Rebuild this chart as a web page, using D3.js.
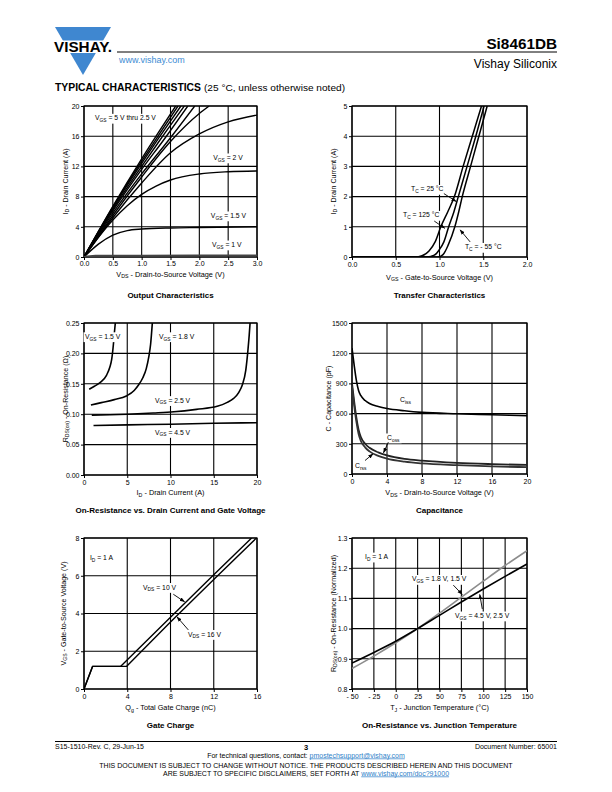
<!DOCTYPE html>
<html><head><meta charset="utf-8">
<script src="https://cdn.jsdelivr.net/npm/d3@7"></script>
<style>
body{margin:0;background:#fff}
svg{font-family:"Liberation Sans",Arial,Helvetica,sans-serif}
</style></head><body>
<svg id="page" width="612" height="792"></svg>
<script>
// ---------------- DATA ----------------
// Output characteristics (VDS [V], ID [A])
const outTicksX = [0, 0.5, 1.0, 1.5, 2.0, 2.5, 3.0];
const outTicksY = [0, 4, 8, 12, 16, 20];
const out_b1 = [[0,0],[0.5,6.7],[1.0,13.0],[1.3,16.6],[1.59,20]];
const out_b2 = [[0,0],[0.5,6.6],[1.0,12.7],[1.3,16.2],[1.63,20]];
const out_b3 = [[0,0],[0.5,6.5],[1.0,12.4],[1.3,15.8],[1.68,20]];
const out_b4 = [[0,0],[0.5,6.3],[1.0,12.0],[1.3,15.3],[1.74,20]];
const out_b5 = [[0,0],[0.5,6.1],[1.0,11.6],[1.4,15.7],[1.80,20]];
const out_b6 = [[0,0],[0.5,5.8],[1.0,11.0],[1.5,15.8],[1.92,20]];
const out_b7 = [[0,0],[0.5,5.5],[1.0,10.6],[1.5,15.3],[2.0,19.0],[2.17,20]];
const out_b8 = [[0,0],[0.5,5.2],[1.0,9.8],[1.5,13.8],[2.0,16.3],[2.5,17.9],[3.0,18.8]];
const out_vgs2 = [[0,0],[0.25,2.6],[0.5,4.9],[0.75,6.8],[1.0,8.3],[1.25,9.4],[1.5,10.2],[2.0,11.0],[2.5,11.3],[3.0,11.4]];
const out_vgs15 = [[0,0],[0.25,1.7],[0.5,2.9],[0.75,3.5],[1.0,3.7],[1.5,3.85],[2.0,3.9],[3.0,4.0]];
const out_vgs1 = [[0,0],[0.1,0.1],[0.2,0.15],[1.0,0.17],[3.0,0.2]];

// Transfer characteristics (VGS [V], ID [A])
const trTicksX = [0, 0.5, 1.0, 1.5, 2.0];
const trTicksY = [0, 1, 2, 3, 4, 5];
const tr_125 = [[0,0],[0.72,0],[0.80,0.04],[0.88,0.2],[0.95,0.5],[1.015,1.0],[1.095,1.5],[1.17,2.0],[1.27,3.0],[1.375,4.0],[1.48,5.0]];
const tr_25  = [[0,0],[0.86,0],[0.94,0.06],[1.00,0.25],[1.05,0.5],[1.105,1.0],[1.165,1.5],[1.215,2.0],[1.315,3.0],[1.415,4.0],[1.51,5.0]];
const tr_m55 = [[0,0],[0.98,0],[1.04,0.08],[1.10,0.4],[1.175,1.0],[1.22,1.5],[1.26,2.0],[1.355,3.0],[1.45,4.0],[1.545,5.0]];

// On-resistance vs drain current (ID [A], RDS(on) [ohm])
const rdsTicksX = [0, 5, 10, 15, 20];
const rdsTicksY = [0, 0.05, 0.10, 0.15, 0.20, 0.25];
const rds_15 = [[0.6,0.141],[1.2,0.146],[1.85,0.152],[2.6,0.164],[3.0,0.178],[3.2,0.19],[3.4,0.215],[3.5,0.232],[3.62,0.25]];
const rds_18 = [[0.8,0.115],[2,0.119],[3.5,0.124],[4.9,0.130],[5.8,0.139],[6.3,0.148],[6.8,0.16],[7.2,0.175],[7.5,0.195],[7.7,0.215],[7.9,0.25]];
const rds_25 = [[0.9,0.0985],[3,0.099],[5,0.100],[8,0.102],[10.4,0.104],[13,0.108],[15.4,0.113],[16.5,0.119],[17.3,0.126],[17.9,0.136],[18.3,0.148],[18.7,0.172],[18.95,0.205],[19.1,0.23],[19.2,0.25]];
const rds_45 = [[1.1,0.0815],[5,0.0825],[10,0.0835],[15,0.085],[20,0.086]];

// Capacitance (VDS [V], C [pF])
const capTicksX = [0, 4, 8, 12, 16, 20];
const capTicksY = [0, 300, 600, 900, 1200, 1500];
const cap_ciss = [[0,1250],[0.25,1080],[0.5,930],[0.75,830],[1,780],[1.5,730],[2,700],[3,670],[4,650],[6,628],[8,612],[12,598],[16,588],[20,578]];
const cap_coss = [[0,900],[0.25,720],[0.5,560],[0.75,440],[1,370],[1.5,300],[2,260],[3,215],[4,185],[6,150],[8,132],[12,110],[16,98],[20,90]];
const cap_crss = [[0,870],[0.25,680],[0.5,520],[0.75,400],[1,330],[1.5,265],[2,225],[3,180],[4,152],[6,122],[8,105],[12,88],[16,76],[20,68]];

// Gate charge (Qg [nC], VGS [V])
const qgTicksX = [0, 4, 8, 12, 16];
const qgTicksY = [0, 2, 4, 6, 8];
const qg_10 = [[0,0],[0.8,1.2],[3.4,1.2],[8,3.8],[12,6.05],[15.5,8]];
const qg_16 = [[0,0],[0.8,1.2],[3.95,1.2],[8,3.55],[12,5.8],[15.95,8]];

// On-resistance vs junction temperature (TJ [°C], normalized)
const tjTicksX = [-50, -25, 0, 25, 50, 75, 100, 125, 150];
const tjTicksY = [0.8, 0.9, 1.0, 1.1, 1.2, 1.3];
const tj_temps = [-50, -25, 0, 25, 50, 75, 100, 125, 150];
const tj_45_25 = [0.886, 0.921, 0.958, 1.0, 1.044, 1.088, 1.131, 1.173, 1.214];
const tj_18_15 = [0.868, 0.909, 0.953, 1.0, 1.051, 1.104, 1.157, 1.209, 1.258];

// ---------------- DRAWING ----------------
const FONT = '"Liberation Sans",Arial,Helvetica,sans-serif';
const svg = d3.select("#page");
const defs = svg.append("defs");
defs.append("marker").attr("id","arr").attr("viewBox","0 0 10 10").attr("refX",9).attr("refY",5)
  .attr("markerWidth",6).attr("markerHeight",6).attr("orient","auto-start-reverse")
  .append("path").attr("d","M0,1.5 L10,5 L0,8.5 z").attr("fill","#000");

function rich(g, x, y, str, o = {}) {
  const t = g.append("text").attr("x", x).attr("y", y)
    .attr("font-size", o.size || 7).attr("text-anchor", o.anchor || "start")
    .attr("font-weight", o.weight || "normal").attr("fill", o.fill || "#000");
  if (o.rotate) t.attr("transform", `rotate(${o.rotate},${x},${y})`);
  const parts = str.split(/(_\{[^}]*\})/);
  let sub = false;
  parts.forEach(p => {
    if (!p) return;
    if (p.startsWith("_{")) {
      t.append("tspan").attr("font-size", (o.size || 7) * 0.72).attr("dy", 1.8).text(p.slice(2, -1));
      sub = true;
    } else {
      const ts = t.append("tspan").text(p);
      if (sub) { ts.attr("dy", -1.8); sub = false; }
    }
  });
  return t;
}

let clipN = 0;
function makeChart(c) {
  const x = d3.scaleLinear().domain(c.xd).range([c.L, c.R]);
  const y = d3.scaleLinear().domain(c.yd).range([c.B, c.T]);
  const g = svg.append("g");
  const id = "clip" + (clipN++);
  defs.append("clipPath").attr("id", id).append("rect")
    .attr("x", c.L).attr("y", c.T).attr("width", c.R - c.L).attr("height", c.B - c.T);
  g.append("g").selectAll("line").data(c.xt).join("line")
    .attr("x1", d => x(d)).attr("x2", d => x(d)).attr("y1", c.T).attr("y2", c.B)
    .attr("stroke", "#000").attr("stroke-width", 1.1);
  g.append("g").selectAll("line").data(c.yt).join("line")
    .attr("y1", d => y(d)).attr("y2", d => y(d)).attr("x1", c.L).attr("x2", c.R)
    .attr("stroke", "#000").attr("stroke-width", 1.1);
  g.append("rect").attr("x", c.L).attr("y", c.T).attr("width", c.R - c.L).attr("height", c.B - c.T)
    .attr("fill", "none").attr("stroke", "#000").attr("stroke-width", 1.2);
  const ax = g.append("g").attr("transform", `translate(0,${c.B})`)
    .call(d3.axisBottom(x).tickValues(c.xt).tickFormat(c.xf).tickSize(3).tickPadding(c.tp == null ? 2 : c.tp));
  ax.select(".domain").remove();
  ax.attr("font-size", 7).attr("font-family", FONT);
  const ay = g.append("g").attr("transform", `translate(${c.L},0)`)
    .call(d3.axisLeft(y).tickValues(c.yt).tickFormat(c.yf).tickSize(3).tickPadding(1.5));
  ay.select(".domain").remove();
  ay.attr("font-size", 7).attr("font-family", FONT);
  const cx = (c.L + c.R) / 2, cy = (c.T + c.B) / 2;
  rich(g, cx, c.xlY, c.xl, { anchor: "middle", size: 7.3 });
  rich(g, c.ylX, cy, c.yl, { anchor: "middle", rotate: -90, size: 7.1 });
  g.append("text").attr("x", cx).attr("y", c.titleY).attr("text-anchor", "middle")
    .attr("font-size", 8).attr("font-weight", "bold").text(c.title);
  const plot = g.append("g").attr("clip-path", `url(#${id})`);
  const ann = g.append("g");
  return { x, y, g, plot, ann };
}

function curve(ch, data, o = {}) {
  const line = d3.line().x(d => ch.x(d[0])).y(d => ch.y(d[1]))
    .curve(o.linear ? d3.curveLinear : d3.curveMonotoneX);
  ch.plot.append("path").datum(data).attr("d", line).attr("fill", "none")
    .attr("stroke", o.color || "#000").attr("stroke-width", o.width || 1.5)
    .attr("stroke-linejoin", "round");
}
function arrow(ch, a, b) {
  ch.ann.append("line").attr("x1", ch.x(a[0])).attr("y1", ch.y(a[1]))
    .attr("x2", ch.x(b[0])).attr("y2", ch.y(b[1]))
    .attr("stroke", "#000").attr("stroke-width", 0.9).attr("marker-end", "url(#arr)");
}
function label(ch, p, s) {
  const grp = ch.ann.append("g");
  const t = rich(grp, ch.x(p[0]), ch.y(p[1]), s, { size: 6.8 });
  const bb = t.node().getBBox();
  grp.insert("rect", "text").attr("x", bb.x - 1.5).attr("y", bb.y - 0.5)
    .attr("width", bb.width + 3).attr("height", bb.height + 1).attr("fill", "#fff");
}

const f1 = d3.format(".1f"), f0 = d3.format("d"), f2 = d3.format(".2f");

// Header
svg.append("polygon").attr("points", "55,27 111,27 83,75").attr("fill", "#3f87d0");
svg.append("rect").attr("x", 52).attr("y", 40.5).attr("width", 62).attr("height", 12.5).attr("fill", "#fff");
svg.append("text").attr("x", 54).attr("y", 52.3).attr("font-size", 14.5).attr("font-weight", "bold")
  .attr("textLength", 58).attr("lengthAdjust", "spacingAndGlyphs").text("VISHAY.");
svg.append("line").attr("x1", 117).attr("x2", 557).attr("y1", 52).attr("y2", 52).attr("stroke", "#000").attr("stroke-width", 1);
svg.append("text").attr("x", 557).attr("y", 48.5).attr("text-anchor", "end").attr("font-size", 15.3)
  .attr("font-weight", "bold").text("Si8461DB");
svg.append("text").attr("x", 119).attr("y", 63).attr("font-size", 9).attr("fill", "#3d8bd3").text("www.vishay.com");
svg.append("text").attr("x", 557).attr("y", 67.5).attr("text-anchor", "end").attr("font-size", 12).text("Vishay Siliconix");
svg.append("text").attr("x", 55).attr("y", 91).attr("font-size", 10).attr("font-weight", "bold")
  .attr("textLength", 146).attr("lengthAdjust", "spacingAndGlyphs").text("TYPICAL CHARACTERISTICS");
svg.append("text").attr("x", 204).attr("y", 91).attr("font-size", 9.8)
  .attr("textLength", 141).attr("lengthAdjust", "spacingAndGlyphs").text("(25 °C, unless otherwise noted)");

// Chart 1: Output characteristics
const c1 = makeChart({ L: 84, R: 257, T: 106, B: 257, xd: [0, 3], yd: [0, 20], xt: outTicksX, yt: outTicksY,
  xf: f1, yf: f0, tp: 1.5, xl: "V_{DS} - Drain-to-Source Voltage (V)", xlY: 276.5, yl: "I_{D} - Drain Current (A)", ylX: 67.5,
  title: "Output Characteristics", titleY: 297.5 });
[out_b1, out_b2, out_b3, out_b4, out_b5, out_b6, out_b7, out_b8, out_vgs2, out_vgs15].forEach(d => curve(c1, d, { width: 1.4 }));
curve(c1, out_vgs1, { width: 2, color: "#444" });
label(c1, [0.19, 18.1], "V_{GS} = 5 V thru 2.5 V");
label(c1, [2.24, 12.85], "V_{GS} = 2 V");
label(c1, [2.2, 5.17], "V_{GS} = 1.5 V");
label(c1, [2.22, 1.32], "V_{GS} = 1 V");

// Chart 2: Transfer characteristics
const c2 = makeChart({ L: 352, R: 527, T: 106, B: 257, xd: [0, 2], yd: [0, 5], xt: trTicksX, yt: trTicksY,
  xf: f1, yf: f0, xl: "V_{GS} - Gate-to-Source Voltage (V)", xlY: 279.5, yl: "I_{D} - Drain Current (A)", ylX: 335.5,
  title: "Transfer Characteristics", titleY: 297.5 });
[tr_125, tr_25, tr_m55].forEach(d => curve(c2, d, { width: 1.5 }));
label(c2, [0.674, 2.17], "T_{C} = 25 °C");
label(c2, [0.583, 1.31], "T_{C} = 125 °C");
label(c2, [1.29, 0.25], "T_{C} = - 55 °C");
arrow(c2, [1.05, 2.1], [1.19, 1.84]);
arrow(c2, [0.94, 1.19], [1.06, 0.95]);
arrow(c2, [1.35, 0.5], [1.235, 0.9]);

// Chart 3: On-resistance vs drain current
const c3 = makeChart({ L: 84, R: 257, T: 323, B: 475, xd: [0, 20], yd: [0, 0.25], xt: rdsTicksX, yt: rdsTicksY,
  xf: f0, yf: f2, xl: "I_{D} - Drain Current (A)", xlY: 495, yl: "R_{DS(on)} - On-Resistance (Ω)", ylX: 67.5,
  title: "On-Resistance vs. Drain Current and Gate Voltage", titleY: 512.5 });
[rds_15, rds_18, rds_25, rds_45].forEach(d => curve(c3, d, { width: 1.6 }));
label(c3, [0.12, 0.224], "V_{GS} = 1.5 V");
label(c3, [8.67, 0.224], "V_{GS} = 1.8 V");
label(c3, [8.2, 0.119], "V_{GS} = 2.5 V");
label(c3, [8.2, 0.0666], "V_{GS} = 4.5 V");

// Chart 4: Capacitance
const c4 = makeChart({ L: 352, R: 527, T: 323, B: 474, xd: [0, 20], yd: [0, 1500], xt: capTicksX, yt: capTicksY,
  xf: f0, yf: f0, xl: "V_{DS} - Drain-to-Source Voltage (V)", xlY: 495, yl: "C - Capacitance (pF)", ylX: 330.5,
  title: "Capacitance", titleY: 512.5 });
curve(c4, cap_ciss, { width: 1.6 });
curve(c4, cap_coss, { width: 1.8, color: "#222" });
curve(c4, cap_crss, { width: 1.8, color: "#333" });
label(c4, [5.49, 715], "C_{iss}");
label(c4, [4.0, 338], "C_{oss}");
label(c4, [0.34, 60], "C_{rss}");
arrow(c4, [4.15, 316], [3.6, 210]);
arrow(c4, [1.49, 134], [2.4, 200]);

// Chart 5: Gate charge
const c5 = makeChart({ L: 84, R: 257, T: 538, B: 689, xd: [0, 16], yd: [0, 8], xt: qgTicksX, yt: qgTicksY,
  xf: f0, yf: f0, xl: "Q_{g} - Total Gate Charge (nC)", xlY: 710, yl: "V_{GS} - Gate-to-Source Voltage (V)", ylX: 65.5,
  title: "Gate Charge", titleY: 727.5 });
curve(c5, qg_10, { width: 1.4, linear: true });
curve(c5, qg_16, { width: 1.4, linear: true });
label(c5, [0.55, 6.81], "I_{D} = 1 A");
label(c5, [5.46, 5.27], "V_{DS} = 10 V");
label(c5, [9.62, 2.78], "V_{DS} = 16 V");
arrow(c5, [8.26, 5.02], [9.3, 4.62]);
arrow(c5, [9.65, 3.13], [8.6, 3.82]);

// Chart 6: On-resistance vs junction temperature
const c6 = makeChart({ L: 352, R: 527, T: 538, B: 689, xd: [-50, 150], yd: [0.8, 1.3], xt: tjTicksX, yt: tjTicksY,
  xf: d => d < 0 ? "- " + Math.abs(d) : String(d), yf: f1,
  xl: "T_{J} - Junction Temperature (°C)", xlY: 710, yl: "R_{DS(on)} - On-Resistance (Normalized)", ylX: 335.5,
  title: "On-Resistance vs. Junction Temperature", titleY: 727.5 });
curve(c6, tj_temps.map((t, i) => [t, tj_18_15[i]]), { width: 1.6, color: "#8c8c8c" });
curve(c6, tj_temps.map((t, i) => [t, tj_45_25[i]]), { width: 1.6 });
label(c6, [-35.1, 1.23], "I_{D} = 1 A");
label(c6, [18.6, 1.156], "V_{GS} = 1.8 V, 1.5 V");
label(c6, [67.7, 1.035], "V_{GS} = 4.5 V, 2.5 V");
arrow(c6, [65.8, 1.144], [76, 1.113]);
arrow(c6, [98.9, 1.065], [96, 1.113]);

// Footer
svg.append("line").attr("x1", 55).attr("x2", 557).attr("y1", 741.5).attr("y2", 741.5).attr("stroke", "#000").attr("stroke-width", 1);
svg.append("text").attr("x", 55).attr("y", 749).attr("font-size", 7).text("S15-1510-Rev. C, 29-Jun-15");
svg.append("text").attr("x", 306).attr("y", 749.5).attr("font-size", 7.5).attr("font-weight", "bold").attr("text-anchor", "middle").text("3");
svg.append("text").attr("x", 557).attr("y", 749).attr("font-size", 7).attr("text-anchor", "end").text("Document Number: 65001");
const ft = svg.append("text").attr("x", 306).attr("y", 757.5).attr("font-size", 7).attr("text-anchor", "middle");
ft.append("tspan").text("For technical questions, contact: ");
ft.append("tspan").attr("fill", "#2f7fc8").attr("text-decoration", "underline").text("pmostechsupport@vishay.com");
svg.append("text").attr("x", 306).attr("y", 767.5).attr("font-size", 7).attr("text-anchor", "middle")
  .text("THIS DOCUMENT IS SUBJECT TO CHANGE WITHOUT NOTICE. THE PRODUCTS DESCRIBED HEREIN AND THIS DOCUMENT");
const fd = svg.append("text").attr("x", 306).attr("y", 775.5).attr("font-size", 7).attr("text-anchor", "middle");
fd.append("tspan").text("ARE SUBJECT TO SPECIFIC DISCLAIMERS, SET FORTH AT ");
fd.append("tspan").attr("fill", "#2f7fc8").attr("text-decoration", "underline").text("www.vishay.com/doc?91000");
</script>
</body></html>
